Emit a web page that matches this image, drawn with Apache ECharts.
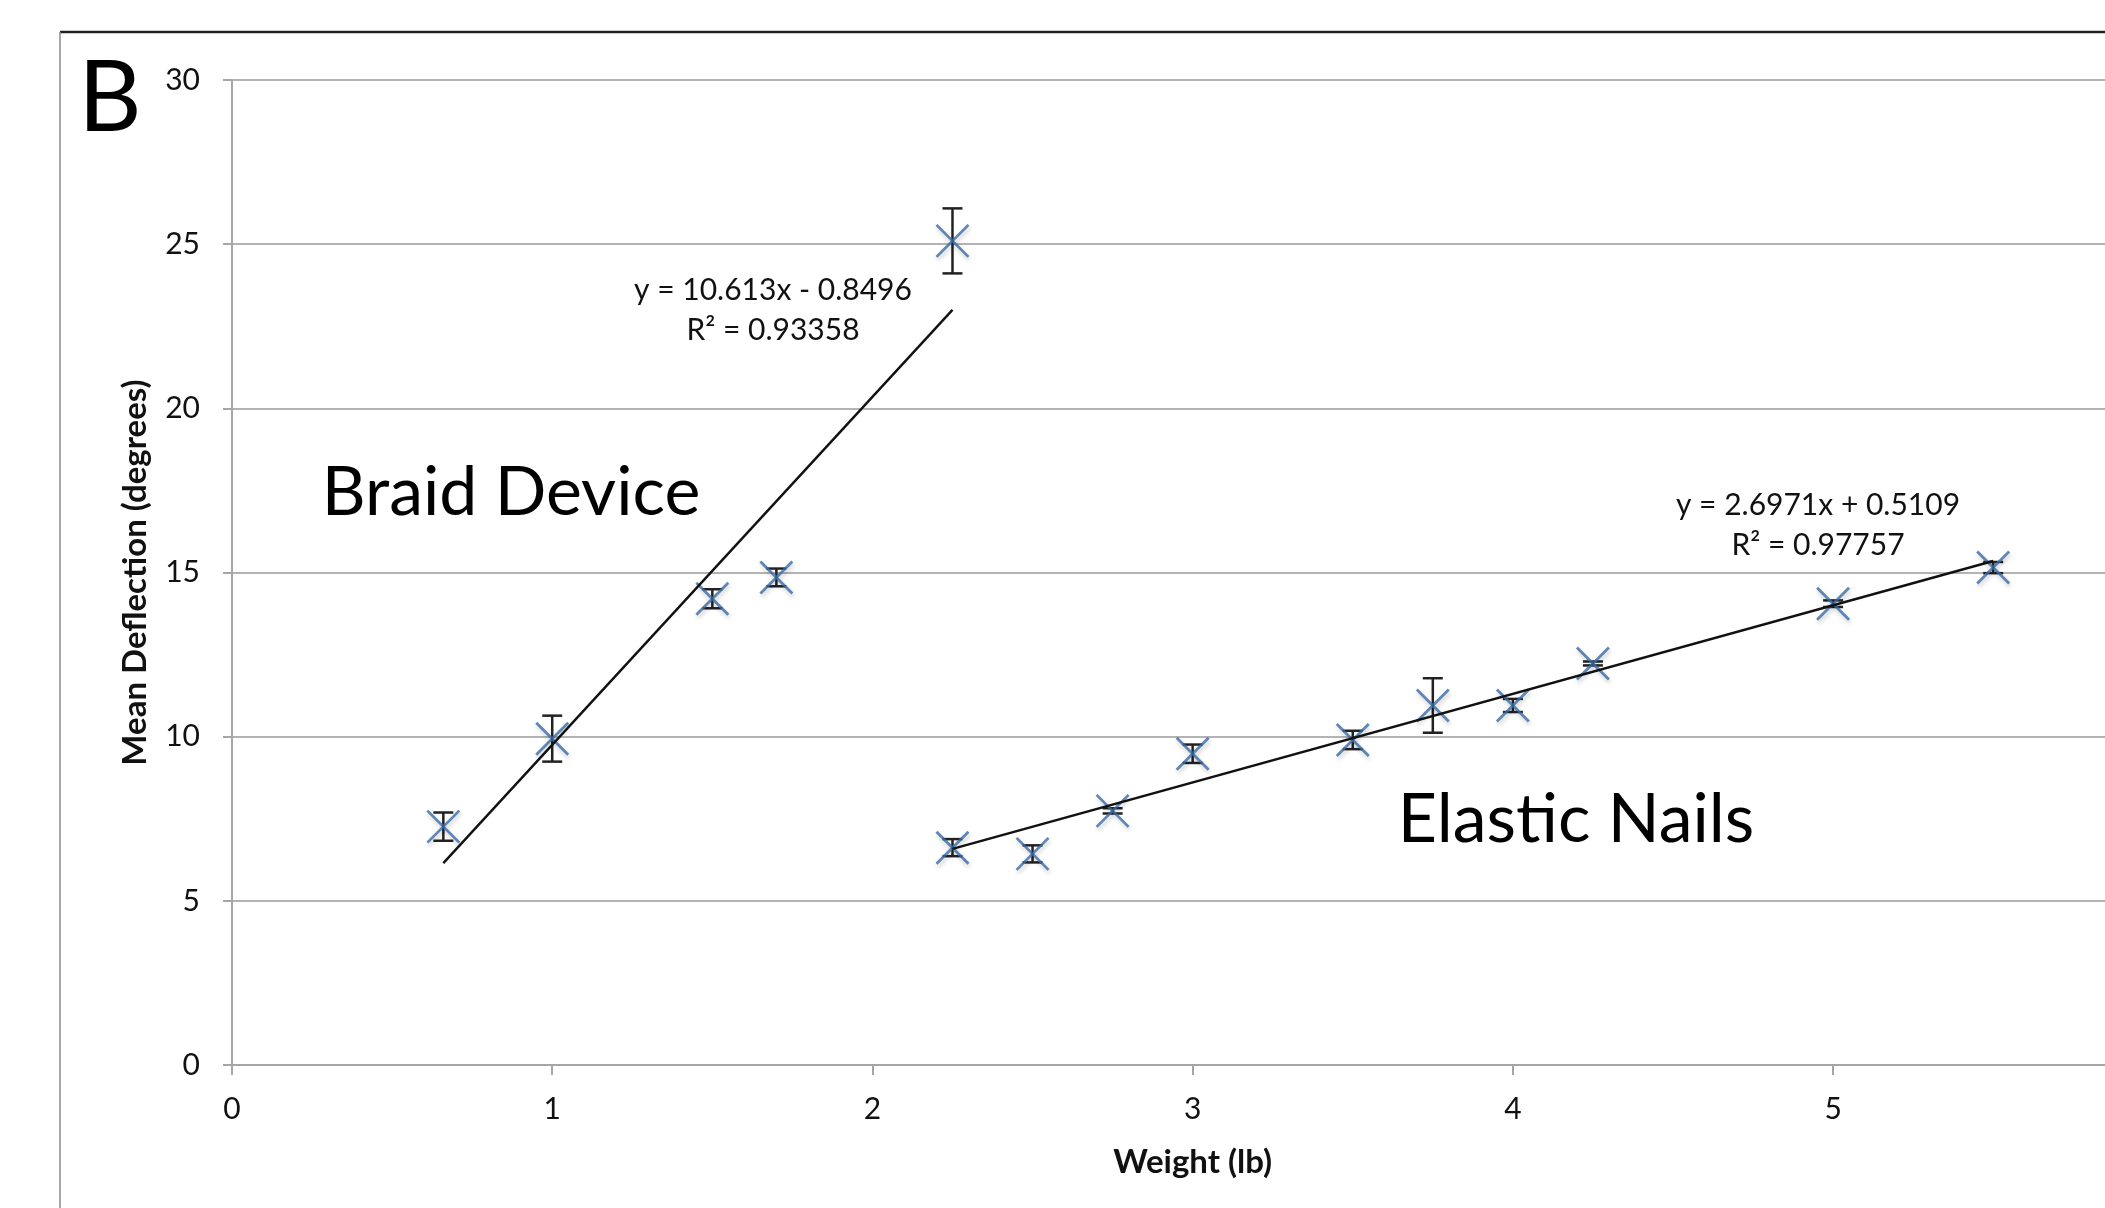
<!DOCTYPE html>
<html lang="en">

<head>
    <meta charset="UTF-8">
    <title>Mean Deflection vs Weight</title>
    <script src="https://cdn.jsdelivr.net/npm/echarts@6/dist/echarts.min.js"></script>
    <style>
        html, body { margin: 0; padding: 0; background: #ffffff; overflow: hidden; }
        /* 图表比窗口宽一点，右侧被裁掉，和原图一样 */
        #main { width: 2165px; height: 1208px; }
    </style>
</head>

<body>
    <div id="main"></div>
</body>

<script>
    // axis ticks
    var xTicks = [0, 1, 2, 3, 4, 5, 6];
    var yTicks = [0, 5, 10, 15, 20, 25, 30];

    // Braid Device: weight, mean deflection, error (+/-)
    var braidX = [0.66, 1.0, 1.5, 1.7, 2.25];
    var braidY = [7.26, 9.94, 14.2, 14.85, 25.1];
    var braidErr = [0.43, 0.7, 0.29, 0.27, 0.99];

    // Elastic Nails
    var nailsX = [2.25, 2.5, 2.75, 3.0, 3.5, 3.75, 4.0, 4.25, 5.0, 5.5];
    var nailsY = [6.62, 6.43, 7.74, 9.48, 9.9, 10.95, 10.95, 12.23, 14.05, 15.15];
    var nailsErr = [0.26, 0.26, 0.08, 0.28, 0.28, 0.83, 0.2, 0.06, 0.1, 0.17];

    // trend line end points
    var braidTrendX = [0.66, 2.25];
    var braidTrendY = [6.15, 23.0];
    var nailsTrendX = [2.25, 5.5];
    var nailsTrendY = [6.58, 15.35];

    var braidEq = ['y = 10.613x - 0.8496', 'R² = 0.93358'];
    var nailsEq = ['y = 2.6971x + 0.5109', 'R² = 0.97757'];

    var FONT = 'Lato';

    function zip(a, b, c) {
        return a.map(function (v, i) { return c ? [v, b[i], c[i]] : [v, b[i]]; });
    }

    // 误差线
    function errorBar(params, api) {
        var x = api.value(0), y = api.value(1), e = api.value(2);
        var top = api.coord([x, y + e]);
        var bot = api.coord([x, y - e]);
        var half = 10;
        var st = { stroke: '#222', lineWidth: 2.5 };
        return {
            type: 'group',
            children: [
                { type: 'line', shape: { x1: top[0], y1: top[1], x2: bot[0], y2: bot[1] }, style: st },
                { type: 'line', shape: { x1: top[0] - half, y1: top[1], x2: top[0] + half, y2: top[1] }, style: st },
                { type: 'line', shape: { x1: bot[0] - half, y1: bot[1], x2: bot[0] + half, y2: bot[1] }, style: st }
            ]
        };
    }

    var crossMarker = {
        type: 'scatter',
        symbol: 'path://M0,0L10,10M10,0L0,10',
        symbolSize: 32,
        itemStyle: {
            color: 'transparent',
            borderColor: '#3a6ca6',
            borderWidth: 2.8,
            shadowColor: 'rgba(0,0,0,0.25)',
            shadowBlur: 4,
            shadowOffsetX: 1,
            shadowOffsetY: 3
        },
        z: 3
    };

    var myChart = echarts.init(document.getElementById('main'));

    myChart.setOption({
        animation: false,
        backgroundColor: '#ffffff',
        grid: { left: 232, top: 80, bottom: 143, right: 5 },
        xAxis: {
            type: 'value',
            min: xTicks[0],
            max: xTicks[xTicks.length - 1],
            interval: 1,
            name: 'Weight (lb)',
            nameLocation: 'middle',
            nameGap: 81,
            nameTextStyle: { fontFamily: FONT, fontWeight: 'bold', fontSize: 33, color: '#111' },
            axisLine: { lineStyle: { color: '#a6a6a6', width: 2 } },
            axisTick: { show: true, length: 10, lineStyle: { color: '#a6a6a6', width: 2 } },
            axisLabel: { fontFamily: FONT, fontSize: 30, color: '#111', margin: 29 },
            splitLine: { show: false }
        },
        yAxis: {
            type: 'value',
            min: yTicks[0],
            max: yTicks[yTicks.length - 1],
            interval: 5,
            name: 'Mean Deflection (degrees)',
            nameLocation: 'middle',
            nameGap: 80,
            nameTextStyle: { fontFamily: FONT, fontWeight: 'bold', fontSize: 33, color: '#111' },
            axisLine: { show: true, lineStyle: { color: '#a6a6a6', width: 2 } },
            axisTick: { show: true, length: 9, lineStyle: { color: '#a6a6a6', width: 2 } },
            axisLabel: { fontFamily: FONT, fontSize: 30, color: '#111', margin: 32 },
            splitLine: { show: true, lineStyle: { color: '#b3b3b3', width: 2 } }
        },
        series: [
            { type: 'custom', renderItem: errorBar, data: zip(braidX, braidY, braidErr), z: 2 },
            { type: 'custom', renderItem: errorBar, data: zip(nailsX, nailsY, nailsErr), z: 2 },
            Object.assign({ name: 'Braid Device', data: zip(braidX, braidY) }, crossMarker),
            Object.assign({ name: 'Elastic Nails', data: zip(nailsX, nailsY) }, crossMarker),
            {
                type: 'line', data: zip(braidTrendX, braidTrendY), showSymbol: false, z: 4,
                lineStyle: { color: '#111', width: 2.4 }
            },
            {
                type: 'line', data: zip(nailsTrendX, nailsTrendY), showSymbol: false, z: 4,
                lineStyle: { color: '#111', width: 2.4 }
            }
        ],
        graphic: [
            // 外框
            { type: 'line', shape: { x1: 60, y1: 32, x2: 2165, y2: 32 }, style: { stroke: '#222', lineWidth: 2.5 } },
            { type: 'line', shape: { x1: 60, y1: 32, x2: 60, y2: 1208 }, style: { stroke: '#8a8a8a', lineWidth: 1.5 } },
            {
                type: 'text', x: 110, y: 99,
                style: { text: 'B', fontFamily: FONT, fontSize: 98, fill: '#000', align: 'center', verticalAlign: 'middle' }
            },
            {
                type: 'text', x: 511, y: 493,
                style: { text: 'Braid Device', fontFamily: FONT, fontSize: 68, fill: '#000', align: 'center', verticalAlign: 'middle' }
            },
            {
                type: 'text', x: 1576, y: 820,
                style: { text: 'Elastic Nails', fontFamily: FONT, fontSize: 68, fill: '#000', align: 'center', verticalAlign: 'middle' }
            },
            {
                type: 'text', x: 773, y: 310,
                style: { text: braidEq.join('\n'), fontFamily: FONT, fontSize: 30, lineHeight: 40, fill: '#111', align: 'center', verticalAlign: 'middle' }
            },
            {
                type: 'text', x: 1818, y: 525,
                style: { text: nailsEq.join('\n'), fontFamily: FONT, fontSize: 30, lineHeight: 40, fill: '#111', align: 'center', verticalAlign: 'middle' }
            }
        ]
    });
</script>

</html>
